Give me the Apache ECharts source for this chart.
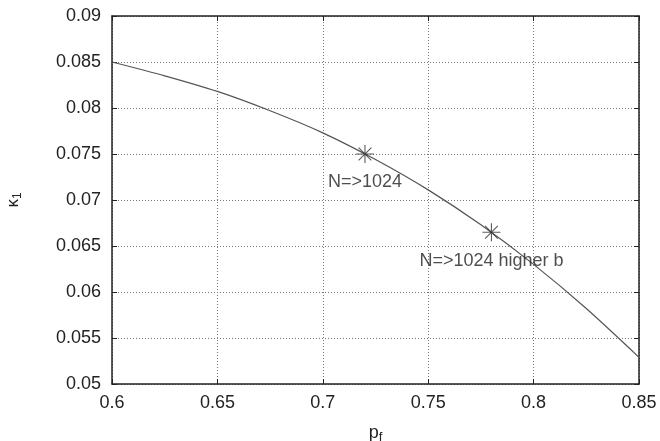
<!DOCTYPE html>
<html>
<head>
<meta charset="utf-8">
<script src="https://cdn.jsdelivr.net/npm/echarts@6/dist/echarts.min.js"></script>
<style>html,body{margin:0;padding:0;background:#fff}#c{width:660px;height:441px}</style>
</head>
<body>
<div id="c"></div>
<script>
var curveX = [0.6, 0.625, 0.65, 0.675, 0.7, 0.725, 0.75, 0.775, 0.8, 0.825, 0.85];
var curveY = [0.085, 0.0835, 0.0818, 0.0797, 0.0773, 0.0744, 0.0711, 0.0673, 0.063, 0.0582, 0.0529];
var markX = [0.72, 0.78];
var markY = [0.075, 0.0665];
var markLabels = ['N=>1024', 'N=>1024 higher b'];
var xTicks = [0.6, 0.65, 0.7, 0.75, 0.8, 0.85];
var yTicks = [0.05, 0.055, 0.06, 0.065, 0.07, 0.075, 0.08, 0.085, 0.09];

var FONT = '"Liberation Sans", Arial, sans-serif';
var chart = echarts.init(document.getElementById('c'), null, {renderer: 'canvas'});
var fmt = function (v) { return String(parseFloat(v.toFixed(4))); };
var baseAxis = {
  axisLine: {show: true, onZero: false, lineStyle: {color: '#222', width: 1.5}},
  axisTick: {show: true, inside: true, length: 5, lineStyle: {color: '#222', width: 1}},
  splitLine: {show: false}
};
chart.setOption({
  animation: false,
  backgroundColor: '#fff',
  grid: {left: 112, right: 21, top: 16, bottom: 57, outerBoundsMode: 'none'},
  xAxis: [
    Object.assign({}, baseAxis, {
      type: 'value', min: xTicks[0], max: xTicks[xTicks.length - 1], interval: 0.05, position: 'bottom',
      axisLabel: {color: '#222', fontSize: 18, fontFamily: FONT, margin: 10, formatter: fmt},
      splitLine: {show: true, lineStyle: {color: '#777', type: [1, 2], width: 1}},
      name: 'p{s|f}', nameLocation: 'middle', nameGap: 38,
      nameTextStyle: {color: '#222', fontSize: 18, fontFamily: FONT,
        rich: {s: {fontSize: 13, fontFamily: FONT, color: '#222', verticalAlign: 'bottom', padding: [9, 0, 0, 0]}}}
    }),
    Object.assign({}, baseAxis, {
      type: 'value', min: xTicks[0], max: xTicks[xTicks.length - 1], interval: 0.05, position: 'top',
      axisLabel: {show: false}
    })
  ],
  yAxis: [
    Object.assign({}, baseAxis, {
      type: 'value', min: yTicks[0], max: yTicks[yTicks.length - 1], interval: 0.005, position: 'left',
      axisLabel: {color: '#222', fontSize: 18, fontFamily: FONT, margin: 11, formatter: fmt},
      splitLine: {show: true, lineStyle: {color: '#777', type: [1, 2], width: 1}},
      name: 'κ{s|1}', nameLocation: 'middle', nameGap: 88, nameRotate: 90,
      nameTextStyle: {color: '#222', fontSize: 17, fontFamily: FONT,
        rich: {s: {fontSize: 12, fontFamily: FONT, color: '#222', padding: [9, 0, 0, 0]}}}
    }),
    Object.assign({}, baseAxis, {
      type: 'value', min: yTicks[0], max: yTicks[yTicks.length - 1], interval: 0.005, position: 'right',
      axisLabel: {show: false}
    })
  ],
  series: [
    {
      type: 'line', xAxisIndex: 0, yAxisIndex: 0, showSymbol: false, smooth: 0.25,
      lineStyle: {color: '#555', width: 1.2},
      data: curveX.map(function (x, i) { return [x, curveY[i]]; }),
      z: 3
    },
    {
      type: 'scatter', xAxisIndex: 0, yAxisIndex: 0,
      symbol: 'path://M10,0L10,20M0,10L20,10M2.9,2.9L17.1,17.1M2.9,17.1L17.1,2.9',
      symbolSize: 18,
      itemStyle: {color: 'none', borderColor: '#333', borderWidth: 1.1},
      label: {show: true, position: 'bottom', distance: 8, color: '#222', fontSize: 18, fontFamily: FONT,
        formatter: function (p) { return markLabels[p.dataIndex]; }},
      data: markX.map(function (x, i) { return [x, markY[i]]; }),
      z: 4
    }
  ]
});
</script>
</body>
</html>
